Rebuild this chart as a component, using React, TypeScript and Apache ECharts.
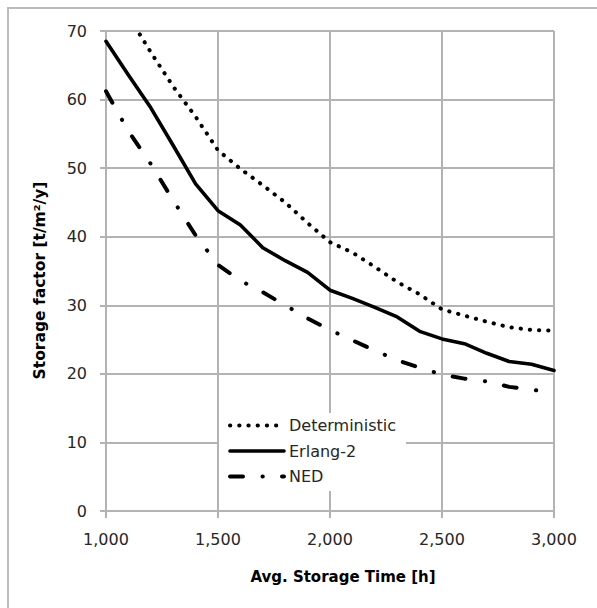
import React, { useEffect, useRef } from "react";
import * as echarts from "echarts";

const storageTimes = [1000, 1100, 1200, 1300, 1400, 1500, 1600, 1700, 1800, 1900, 2000, 2100, 2200, 2300, 2400, 2500, 2600, 2700, 2800, 2900, 3000];
const deterministic = [77.5, 72.2, 66.9, 61.9, 57.5, 52.6, 49.9, 47.5, 45.0, 42.0, 39.2, 37.7, 35.6, 33.4, 31.6, 29.4, 28.5, 27.6, 26.8, 26.4, 26.3];
const erlang2 = [68.5, 63.6, 58.8, 53.3, 47.7, 43.8, 41.7, 38.4, 36.5, 34.8, 32.2, 31.0, 29.7, 28.3, 26.2, 25.1, 24.4, 23.0, 21.8, 21.4, 20.5];
const ned = [61.2, 55.4, 50.6, 45.3, 40.2, 35.9, 33.6, 31.9, 30.0, 28.1, 26.4, 24.9, 23.4, 22.0, 20.9, 19.9, 19.3, 18.9, 18.1, 17.7, 17.2];
const seriesNames = ["Deterministic", "Erlang-2", "NED"];

const gridColor = "#b3b3b3";
const labelColor = "#262626";
const font = "DejaVu Sans";

const dotStyle = { color: "#000", width: 4, type: [0.3, 8.9], cap: "round" };
const solidStyle = { color: "#000", width: 3.6, type: "solid", cap: "round", join: "round" };
const dashDotStyle = { color: "#000", width: 4, type: [13, 19.5, 0.3, 19.2], cap: "round" };
const lineStyles = [dotStyle, solidStyle, dashDotStyle];

const pairs = (ys: number[]) => storageTimes.map((x, i) => [x, ys[i]]);

export default function App() {
  const ref = useRef<HTMLDivElement>(null);
  useEffect(() => {
    if (!ref.current) return;
    const chart = echarts.init(ref.current, null, { renderer: "svg" });
    const axisLineStyle = { color: gridColor, width: 2 };
    chart.setOption({
      animation: false,
      backgroundColor: "#ffffff",
      textStyle: { fontFamily: font },
      graphic: [
        {
          type: "rect",
          silent: true,
          z: -1,
          shape: { x: 8, y: 8, width: 700, height: 700 },
          style: { fill: "none", stroke: "#bcbcbc", lineWidth: 2 },
        },
      ],
      grid: { left: 106, top: 31, right: 43, bottom: 97 },
      legend: {
        orient: "vertical",
        left: 219,
        top: 413,
        padding: [4, 10, 6, 9],
        backgroundColor: "#ffffff",
        itemWidth: 54,
        itemHeight: 17,
        itemGap: 8.5,
        data: seriesNames.map((name, i) => ({
          name,
          lineStyle: { ...lineStyles[i] },
          itemStyle: { color: "rgba(0,0,0,0)", borderColor: "rgba(0,0,0,0)", borderWidth: 0 },
        })),
        itemStyle: { color: "rgba(0,0,0,0)", borderColor: "rgba(0,0,0,0)", borderWidth: 0 },
        textStyle: { fontFamily: font, fontSize: 16, color: labelColor, lineHeight: 17 },
      },
      xAxis: {
        type: "value",
        min: 1000,
        max: 3000,
        interval: 500,
        axisLine: { show: true, lineStyle: axisLineStyle },
        axisTick: { show: true, length: 7, lineStyle: axisLineStyle },
        splitLine: { show: true, lineStyle: axisLineStyle },
        axisLabel: {
          margin: 20,
          fontSize: 16,
          color: labelColor,
          fontFamily: font,
          formatter: (v: number) => v.toLocaleString("en-US"),
        },
        name: "Avg. Storage Time [h]",
        nameLocation: "middle",
        nameGap: 58,
        nameTextStyle: { fontFamily: font, fontWeight: "bold", fontSize: 15, color: "#000", padding: [0, 0, 0, 26] },
      },
      yAxis: {
        type: "value",
        min: 0,
        max: 70,
        interval: 10,
        axisLine: { show: true, lineStyle: axisLineStyle },
        axisTick: { show: true, length: 6, lineStyle: axisLineStyle },
        splitLine: { show: true, lineStyle: axisLineStyle },
        axisLabel: { margin: 19, fontSize: 16, color: labelColor, fontFamily: font },
        name: "Storage factor [t/m²/y]",
        nameLocation: "middle",
        nameGap: 58,
        nameTextStyle: { fontFamily: font, fontWeight: "bold", fontSize: 15.5, color: "#000", padding: [0, 19, 0, 0] },
      },
      series: [
        {
          name: seriesNames[0],
          type: "line",
          data: pairs(deterministic),
          symbol: "none",
          clip: true,
          lineStyle: dotStyle,
          itemStyle: { color: "#000" },
        },
        {
          name: seriesNames[1],
          type: "line",
          data: pairs(erlang2),
          symbol: "none",
          clip: true,
          lineStyle: solidStyle,
          itemStyle: { color: "#000" },
        },
        {
          name: seriesNames[2],
          type: "line",
          data: pairs(ned),
          symbol: "none",
          clip: true,
          lineStyle: dashDotStyle,
          itemStyle: { color: "#000" },
        },
      ],
    });
    return () => chart.dispose();
  }, []);
  return (
    <div
      ref={ref}
      style={{ position: "fixed", left: 0, top: 0, width: 597, height: 608, background: "#fff" }}
    />
  );
}
